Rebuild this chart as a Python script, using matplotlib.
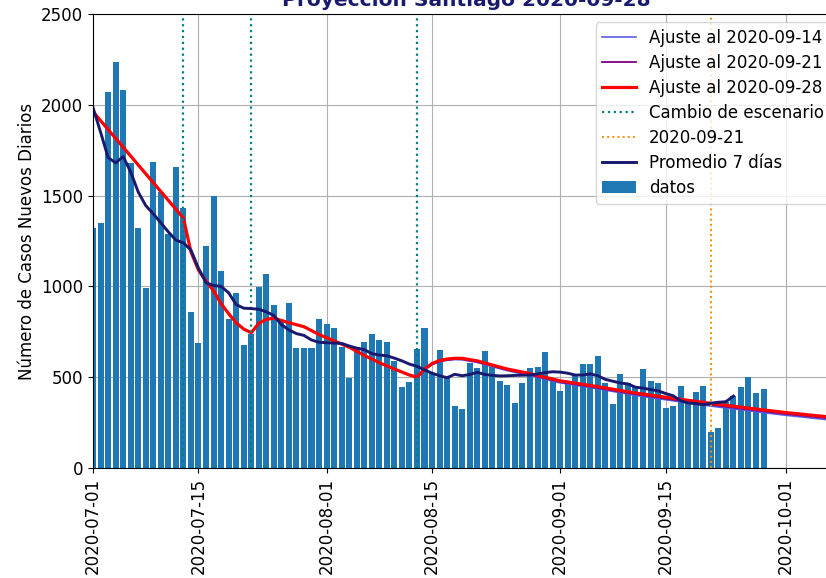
import matplotlib
matplotlib.use('Agg')
import matplotlib.pyplot as plt
import matplotlib.dates as mdates
import pandas as pd

plt.rcParams['font.size'] = 12

# casos diarios desde el 2020-07-01
inicio = '2020-07-01'
casos = [1320, 1351, 2072, 2237, 2081, 1680, 1320, 989, 1687, 1522,
         1290, 1659, 1430, 861, 687, 1224, 1498, 1087, 822, 962,
         677, 740, 998, 1066, 898, 802, 907, 663, 663, 663,
         820, 791, 769, 668, 494, 665, 696, 736, 705, 696,
         589, 444, 472, 655, 769, 525, 650, 500, 343, 325,
         576, 552, 644, 554, 480, 457, 356, 470, 549, 558,
         641, 479, 424, 466, 510, 571, 571, 617, 470, 352,
         516, 466, 450, 545, 479, 466, 329, 341, 453, 365,
         417, 452, 200, 218, 365, 397, 444, 503, 411, 433]

# promedio movil 7 dias
prom7 = [1985, 1850, 1710, 1680, 1715, 1630, 1520, 1445, 1400, 1350,
         1300, 1255, 1240, 1200, 1100, 1020, 1005, 1000, 965, 900,
         880, 878, 874, 860, 840, 790, 760, 740, 730, 705,
         692, 690, 688, 686, 672, 660, 652, 630, 622, 618,
         605, 590, 572, 560, 540, 522, 508, 497, 516, 508,
         515, 527, 515, 510, 507, 508, 510, 511, 512, 518,
         525, 530, 528, 522, 512, 512, 518, 508, 488, 478,
         468, 463, 445, 440, 432, 425, 410, 398, 370, 358,
         355, 348, 357, 362, 365, 396]

# ajuste del modelo por escenarios (dia desde el inicio, casos)
dias_28 = [0, 12, 13, 14, 15, 16, 17, 18, 19, 20, 21, 22, 23, 24, 26, 28,
           30, 32, 34, 36, 38, 40, 42, 43, 44, 45, 46, 47, 48, 49, 51, 53,
           55, 58, 62, 67, 72, 77, 82, 87, 92, 97, 102]
ajuste_28 = [1962, 1376, 1190, 1090, 1030, 975, 905, 850, 800, 765, 745,
             797, 818, 825, 800, 778, 735, 700, 665, 620, 580, 545, 512,
             500, 545, 575, 592, 600, 604, 604, 590, 567, 545, 520, 480,
             448, 413, 384, 356, 330, 305, 284, 264]

dias_21 = [43, 44, 45, 46, 47, 48, 49, 51, 53, 55, 58, 62, 67, 72, 77,
           82, 87, 92, 97, 102]
ajuste_21 = [497, 541, 571, 588, 596, 600, 599, 585, 562, 540, 514, 474,
             441, 406, 376, 348, 322, 297, 276, 256]

dias_14 = [43, 44, 45, 46, 47, 48, 49, 51, 53, 55, 58, 62, 67, 72, 77,
           82, 87, 92, 97, 102]
ajuste_14 = [495, 539, 569, 585, 593, 597, 596, 581, 558, 536, 509, 469,
             436, 400, 370, 341, 315, 290, 268, 248]

cambios = ['2020-07-13', '2020-07-22', '2020-08-13']
fecha_ref = '2020-09-21'

t0 = pd.Timestamp(inicio)
fechas = pd.date_range(t0, periods=len(casos), freq='D')
fechas_prom = pd.date_range(t0, periods=len(prom7), freq='D')
f28 = t0 + pd.to_timedelta(dias_28, unit='D')
f21 = t0 + pd.to_timedelta(dias_21, unit='D')
f14 = t0 + pd.to_timedelta(dias_14, unit='D')

fig = plt.figure(figsize=(8.26, 5.78), dpi=100)
ax = fig.add_axes([0.1126, 0.1903, 0.903, 0.7855])

ax.plot(f14, ajuste_14, color='#5c5ce8', lw=1.2, label='Ajuste al 2020-09-14')
ax.plot(f21, ajuste_21, color='purple', lw=1.3, label='Ajuste al 2020-09-21')
ax.plot(f28, ajuste_28, color='red', lw=2.3, label='Ajuste al 2020-09-28')
for i, c in enumerate(cambios):
    ax.axvline(pd.Timestamp(c), color='teal', ls=':', lw=1.6,
               label='Cambio de escenario' if i == 0 else None)
ax.axvline(pd.Timestamp(fecha_ref), color='darkorange', ls=':', lw=1.4,
           label=fecha_ref)
ax.plot(fechas_prom, prom7, color='midnightblue', lw=2.1, label='Promedio 7 días')
ax.bar(fechas, casos, width=0.8, color='#1f77b4', label='datos', zorder=1)

ax.set_xlim(t0, t0 + pd.Timedelta(days=99))
ax.set_ylim(0, 2500)
ax.xaxis.set_major_locator(mdates.DayLocator(bymonthday=[1, 15]))
ax.xaxis.set_major_formatter(mdates.DateFormatter('%Y-%m-%d'))
plt.setp(ax.get_xticklabels(), rotation=90)
ax.grid(True)
ax.set_axisbelow(True)
ax.set_ylabel('Número de Casos Nuevos Diarios')
ax.set_title('Proyección Santiago 2020-09-28', fontsize=14.5, fontweight='bold',
             color='midnightblue')
ax.legend(loc='upper right', labelspacing=0.42)

fig.savefig('out.png', dpi=100)
